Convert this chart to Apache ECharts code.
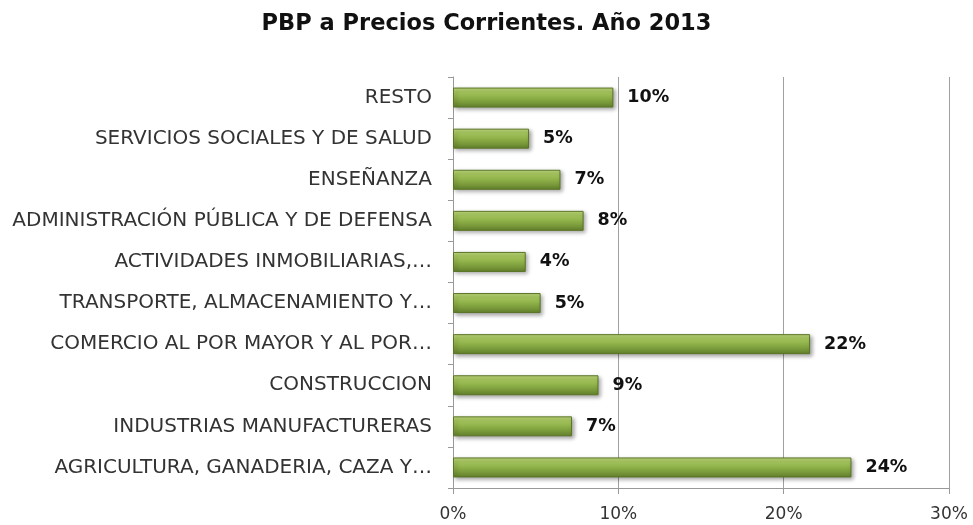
<!DOCTYPE html>
<html>
<head>
<meta charset="utf-8">
<script src="https://cdn.jsdelivr.net/npm/echarts@6/dist/echarts.min.js"></script>
<style>
  html, body { margin: 0; padding: 0; background: #fff; }
  #chart { width: 973px; height: 525px; }
</style>
</head>
<body>
<div id="chart"></div>
<script>
// bottom to top, as the category axis draws them
const categories = [
  'AGRICULTURA, GANADERIA, CAZA Y…',
  'INDUSTRIAS MANUFACTURERAS',
  'CONSTRUCCION',
  'COMERCIO AL POR MAYOR Y AL POR…',
  'TRANSPORTE, ALMACENAMIENTO Y…',
  'ACTIVIDADES INMOBILIARIAS,…',
  'ADMINISTRACIÓN PÚBLICA Y DE DEFENSA',
  'ENSEÑANZA',
  'SERVICIOS SOCIALES Y DE SALUD',
  'RESTO'
]
const shares = [24.1, 7.2, 8.8, 21.6, 5.3, 4.4, 7.9, 6.5, 4.6, 9.7]
const xTicks = [0, 10, 20, 30]

const chart = echarts.init(document.getElementById('chart'))

const barFill = new echarts.graphic.LinearGradient(0, 0, 0, 1, [
  { offset: 0, color: '#c2da80' },
  { offset: 0.2, color: '#a8c860' },
  { offset: 0.55, color: '#8aac45' },
  { offset: 1, color: '#62802c' }
])

chart.setOption({
  animation: false,
  textStyle: { fontFamily: 'DejaVu Sans' },
  title: {
    text: 'PBP a Precios Corrientes. Año 2013',
    left: 'center',
    top: 8,
    textStyle: { color: '#111', fontSize: 22.5, fontWeight: 'bold', fontFamily: 'DejaVu Sans' }
  },
  grid: { left: 453, right: 24, top: 77, bottom: 37 },
  xAxis: {
    type: 'value',
    min: xTicks[0],
    max: xTicks[xTicks.length - 1],
    interval: 10,
    axisLine: { show: true, lineStyle: { color: '#999' } },
    axisTick: { show: true, length: 6, lineStyle: { color: '#999' } },
    axisLabel: { color: '#333', fontSize: 17, margin: 18, formatter: '{value}%' },
    splitLine: { show: true, lineStyle: { color: '#a0a0a0', width: 1 } }
  },
  yAxis: {
    type: 'category',
    data: categories,
    axisLine: { show: true, lineStyle: { color: '#999' } },
    axisTick: { show: true, length: 5, lineStyle: { color: '#999' } },
    axisLabel: { color: '#333', fontSize: 20, margin: 21 }
  },
  series: [{
    type: 'bar',
    data: shares,
    barWidth: 20,
    itemStyle: {
      color: barFill,
      borderColor: '#5a7526',
      borderWidth: 1,
      shadowColor: 'rgba(0,0,0,0.35)',
      shadowBlur: 4,
      shadowOffsetX: 2,
      shadowOffsetY: 2
    },
    label: {
      show: true,
      position: 'right',
      distance: 14,
      color: '#111',
      fontSize: 17.5,
      fontWeight: 'bold',
      formatter: ({ value }) => Math.round(value) + '%'
    }
  }]
})
</script>
</body>
</html>
